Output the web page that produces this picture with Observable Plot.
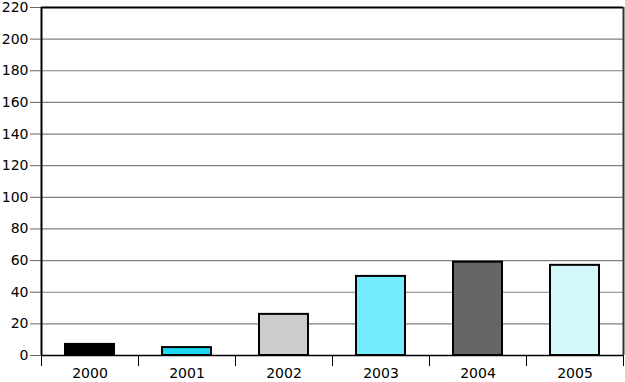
<!DOCTYPE html>
<html><head><meta charset="utf-8">
<script src="https://cdn.jsdelivr.net/npm/d3@7"></script>
<script src="https://cdn.jsdelivr.net/npm/@observablehq/plot@0.6"></script>
<style>body{margin:0;background:#fff}</style>
</head><body><div id="chart"></div>
<script>
const years = ["2000","2001","2002","2003","2004","2005"];
const values = [7, 5, 26, 50, 59, 57];
const colors = ["#000000","#1ed9f5","#cccccc","#75ecfd","#666666","#d2f8fc"];
const yTicks = [0,20,40,60,80,100,120,140,160,180,200,220];
const gridTicks = [20,40,60,80,100,120,140,160,180,200];

const data = years.map((y,i)=>({year:y, value:values[i], color:colors[i]}));
const W = 625, H = 382, ML = 41, MR = 2;
const step = (W - ML - MR) / years.length;

const chart = Plot.plot({
  width: W, height: H,
  marginLeft: ML, marginRight: MR, marginTop: 7, marginBottom: 27,
  style: {fontFamily: "DejaVu Sans", fontSize: "14px", color: "#000", background: "#fff"},
  x: {domain: years, paddingInner: 0.5, paddingOuter: 0.25, label: null},
  y: {domain: [0,220], ticks: yTicks, label: null},
  color: {type: "identity"},
  marks: [
    Plot.ruleY(gridTicks, {stroke: "#808080", strokeWidth: 1.2}),
    Plot.ruleY([220], {stroke: "#000", strokeWidth: 2}),
    Plot.ruleX([years[years.length-1]], {dx: step/2, stroke: "#333", strokeWidth: 2}),
    Plot.axisY({ticks: yTicks, tickSize: 11, tickPadding: 2, stroke: "#666", fontSize: 14}),
    Plot.axisX({tickSize: 0, tickPadding: 13, fontSize: 14}),
    Plot.ruleX(years, {dx: -step/2, y1: 0, y2: -7, stroke: "#000", strokeWidth: 1}),
    Plot.ruleX([years[years.length-1]], {dx: step/2, y1: 0, y2: -7, stroke: "#000", strokeWidth: 1}),
    Plot.barY(data, {x: "year", y: "value", fill: "color", stroke: "#000", strokeWidth: 2}),
    Plot.ruleY([0], {stroke: "#000", strokeWidth: 1.5}),
    Plot.ruleX([years[0]], {dx: -step/2, stroke: "#000", strokeWidth: 2})
  ]
});
document.getElementById("chart").appendChild(chart);
</script>
</body></html>
